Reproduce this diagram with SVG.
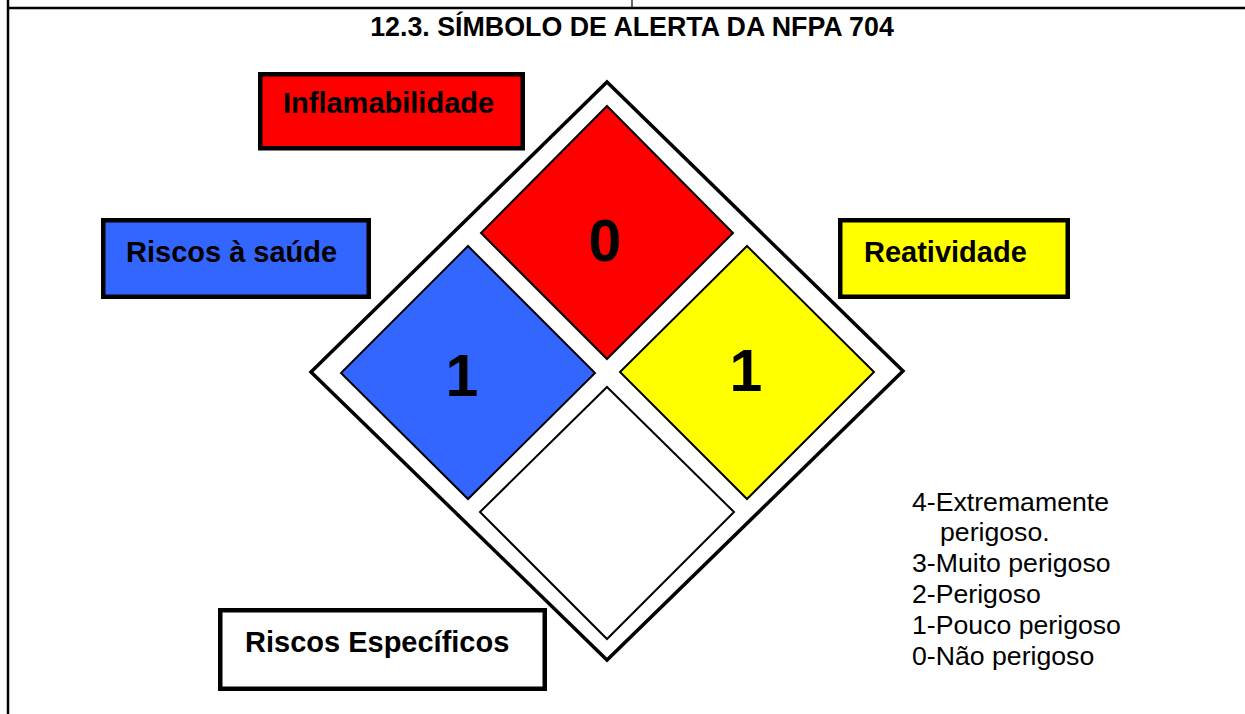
<svg xmlns="http://www.w3.org/2000/svg" width="1245" height="714" viewBox="0 0 1245 714">
<style>
.frame{stroke:#000;fill:none}
.dia{stroke:#000;stroke-width:2;stroke-linejoin:miter}
.box{stroke:#000;stroke-width:4.5}
.lbl{font-family:"Liberation Sans",Arial,sans-serif;font-weight:bold;font-size:29px;fill:#000}
.num{font-family:"Liberation Sans",Arial,sans-serif;font-weight:bold;font-size:59px;fill:#000;text-anchor:middle}
.sc{font-family:"Liberation Sans",Arial,sans-serif;font-size:26.67px;fill:#000}
</style>
<rect width="1245" height="714" fill="#fff"/>
<g id="frame">
<line class="frame" x1="8" y1="0" x2="8" y2="714" stroke-width="2.5"/>
<line class="frame" x1="8" y1="8" x2="1245" y2="8" stroke-width="2.7"/>
<line class="frame" x1="632" y1="0" x2="632" y2="8" stroke-width="1.2"/>
</g>
<text id="title" x="632" y="36" text-anchor="middle" style="font-family:'Liberation Sans',Arial,sans-serif;font-weight:bold;font-size:26.8px">12.3. SÍMBOLO DE ALERTA DA NFPA 704</text>
<g id="diamond">
<polygon points="607,82 903,371 607,660 311,372" fill="#fff" stroke="#000" stroke-width="3.5"/>
</g>
<g id="flammability">
<polygon class="dia" points="607,106 733,233 607,359 481,233" fill="#ff0000"/>
<text class="num" x="605" y="261">0</text>
</g>
<g id="health">
<polygon class="dia" points="468,246 595,373 468,499 341,373" fill="#3366ff"/>
<text class="num" x="462" y="396">1</text>
</g>
<g id="reactivity">
<polygon class="dia" points="747,246 874,372 747,499 620,372" fill="#ffff00"/>
<text class="num" x="746" y="391">1</text>
</g>
<g id="specific">
<polygon class="dia" points="607,387 734,512 607,639 480,512" fill="#fff"/>
</g>
<g id="label-inflamabilidade">
<rect class="box" x="260.25" y="74.25" width="262.5" height="74" fill="#ff0000"/>
<text class="lbl" x="283" y="113">Inflamabilidade</text>
</g>
<g id="label-saude">
<rect class="box" x="103.25" y="220.25" width="265.5" height="76.5" fill="#3366ff"/>
<text class="lbl" x="126" y="262">Riscos à saúde</text>
</g>
<g id="label-reatividade">
<rect class="box" x="840.25" y="220.25" width="227.5" height="76.5" fill="#ffff00"/>
<text class="lbl" x="864" y="262">Reatividade</text>
</g>
<g id="label-especificos">
<rect class="box" x="220.25" y="610.25" width="324.5" height="78.5" fill="#fff"/>
<text class="lbl" x="245" y="652">Riscos Específicos</text>
</g>
<g id="connectors"></g>
<g id="scale">
<text class="sc" x="912" y="511">4-Extremamente</text>
<text class="sc" x="940" y="541">perigoso.</text>
<text class="sc" x="912" y="572">3-Muito perigoso</text>
<text class="sc" x="912" y="603">2-Perigoso</text>
<text class="sc" x="912" y="634">1-Pouco perigoso</text>
<text class="sc" x="912" y="665">0-Não perigoso</text>
</g>
</svg>
